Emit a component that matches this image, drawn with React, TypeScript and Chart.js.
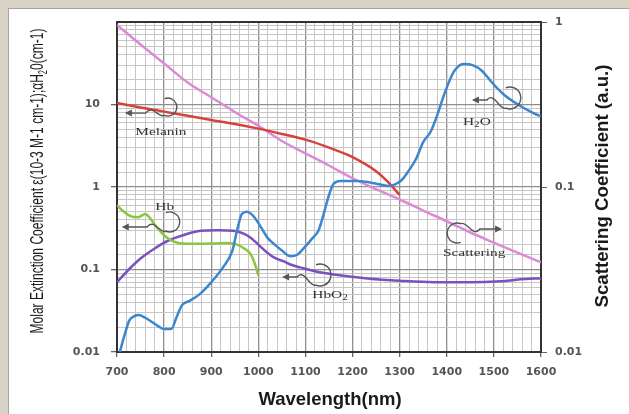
import React, { useEffect, useRef } from 'react';
import { Chart, registerables } from 'chart.js';

Chart.register(...registerables);

// ---- data ----
const scatterNm = [700, 750, 800, 850, 900, 950, 1000, 1050, 1100, 1150, 1200, 1250, 1300, 1350, 1400, 1450, 1500, 1550, 1600];
const scatterVal = [0.96, 0.73, 0.56, 0.43, 0.35, 0.285, 0.235, 0.19, 0.16, 0.135, 0.113, 0.097, 0.084, 0.072, 0.062, 0.053, 0.046, 0.04, 0.035];

const melaninNm = [700, 750, 800, 850, 900, 950, 1000, 1050, 1100, 1150, 1200, 1250, 1275, 1300];
const melaninVal = [10.4, 9.2, 8.2, 7.3, 6.5, 5.8, 5.1, 4.4, 3.75, 3.0, 2.3, 1.55, 1.15, 0.8];

const waterNm = [706, 716, 726, 736, 746, 760, 780, 800, 815, 826, 838, 855, 875, 898, 925, 945, 955, 965, 975, 990, 1005, 1020, 1035, 1050, 1068, 1082, 1096, 1115, 1128, 1140, 1150, 1160, 1175, 1210, 1253, 1275, 1302, 1320, 1335, 1350, 1366, 1380, 1394, 1415, 1436, 1455, 1475, 1494, 1521, 1551, 1585, 1600];
const waterVal = [0.01, 0.016, 0.024, 0.027, 0.028, 0.026, 0.022, 0.019, 0.019, 0.026, 0.037, 0.042, 0.05, 0.068, 0.106, 0.17, 0.3, 0.47, 0.5, 0.44, 0.33, 0.24, 0.2, 0.17, 0.145, 0.15, 0.18, 0.24, 0.3, 0.5, 0.8, 1.1, 1.18, 1.18, 1.09, 1.03, 1.18, 1.6, 2.2, 3.5, 4.7, 7.5, 13, 25, 31, 30, 25.5, 19, 13.2, 10, 7.8, 7.2];

const hbNm = [700, 715, 730, 745, 760, 770, 785, 800, 815, 830, 850, 877, 905, 934, 955, 970, 983, 992, 1000];
const hbVal = [0.6, 0.5, 0.44, 0.43, 0.47, 0.42, 0.32, 0.26, 0.225, 0.21, 0.205, 0.205, 0.207, 0.21, 0.2, 0.18, 0.155, 0.12, 0.085];

const hbo2Nm = [700, 725, 750, 780, 806, 840, 877, 913, 947, 970, 985, 1000, 1019, 1035, 1053, 1068, 1089, 1120, 1160, 1232, 1300, 1372, 1450, 1515, 1585, 1600];
const hbo2Val = [0.07, 0.1, 0.136, 0.18, 0.22, 0.26, 0.295, 0.3, 0.295, 0.27, 0.24, 0.2, 0.16, 0.138, 0.126, 0.115, 0.106, 0.095, 0.087, 0.078, 0.073, 0.07, 0.07, 0.072, 0.078, 0.078];

const xTickLabels = [700, 800, 900, 1000, 1100, 1200, 1300, 1400, 1500, 1600];
const leftTickLabels = [10, 1, 0.1, 0.01];
const rightTickLabels = [1, 0.1, 0.01];

const leftTitleMain = 'Molar Extinction Coefficient \u03b5(10-3 M-1 cm-1);\u03b1H';
const leftTitleSub = '2';
const leftTitleEnd = '0(cm-1)';
const rightTitle = 'Scattering Coefficient (a.u.)';
const xTitle = 'Wavelength(nm)';

// annotation anchors: arc centre in data units (nm, left-axis value)
const annotations = [
  { text: 'Melanin', sub: '', after: '', at: [808, 9.3], r: 9, head: [-43, 6], label: [-7, 25], flip: false },
  { text: 'H', sub: '2', after: 'O', at: [1534, 12], r: 11, head: [-38, 2], label: [-33, 24], flip: false },
  { text: 'Hb', sub: '', after: '', at: [812, 0.377], r: 10, head: [-48, 5], label: [-5, -15], flip: false },
  { text: 'HbO', sub: '2', after: '', at: [1131, 0.0858], r: 11, head: [-38, 2], label: [10, 20], flip: false },
  { text: 'Scattering', sub: '', after: '', at: [1422, 0.277], r: 10, head: [-45, 4], label: [17, 20], flip: true },
];

const pts = (xs: number[], ys: number[]) => xs.map((x, i) => ({ x, y: ys[i] }));
const isPow10 = (v: number) => Math.abs(Math.log10(v) - Math.round(Math.log10(v))) < 1e-6;
const inList = (v: number, list: number[]) => list.some((l) => Math.abs(l - v) / l < 1e-6);
const fmt = (v: number) => (v >= 1 ? String(Math.round(v)) : String(Number(v.toPrecision(1))));

const TICK_FONT = { family: '"DejaVu Sans", Verdana, sans-serif', size: 11, weight: 'bold' as const };
const MAJOR_GRID = '#8e8e8e';
const MINOR_GRID = '#c6c6c6';

const overlayPlugin = {
  id: 'overlay',
  afterDraw(chart: any) {
    const ctx: CanvasRenderingContext2D = chart.ctx;
    const xs = chart.scales.x;
    const ys = chart.scales.y;

    // annotations
    for (const a of annotations) {
      const cx = xs.getPixelForValue(a.at[0]);
      const cy = ys.getPixelForValue(a.at[1]);
      ctx.save();
      ctx.translate(cx, cy);
      if (a.flip) ctx.scale(-1, -1);
      ctx.strokeStyle = '#555';
      ctx.fillStyle = '#555';
      ctx.lineWidth = 1.4;
      const r = a.r;
      const ang = 0.62 * Math.PI;
      const ex = r * Math.cos(ang);
      const ey = r * Math.sin(ang);
      const hx = a.head[0];
      const hy = a.head[1];
      ctx.beginPath();
      ctx.arc(0, 0, r, -ang, ang, false);
      ctx.bezierCurveTo(ex - 6, ey + 3, ex - 12, hy - 9, ex - 19, hy);
      ctx.lineTo(hx + 6, hy);
      ctx.stroke();
      ctx.beginPath();
      ctx.moveTo(hx, hy);
      ctx.lineTo(hx + 7, hy - 3.5);
      ctx.lineTo(hx + 7, hy + 3.5);
      ctx.closePath();
      ctx.fill();
      ctx.restore();

      // label
      ctx.save();
      const lx = cx + a.label[0];
      const ly = cy + a.label[1];
      const mainFont = '11px "Liberation Serif", "Times New Roman", serif';
      const subFont = '8px "Liberation Serif", "Times New Roman", serif';
      ctx.font = mainFont;
      const w1 = ctx.measureText(a.text).width;
      const w3 = ctx.measureText(a.after).width;
      ctx.font = subFont;
      const w2 = ctx.measureText(a.sub).width;
      const stretch = 1.4;
      const total = w1 + w2 + w3;
      ctx.translate(lx, ly);
      ctx.scale(stretch, 1);
      ctx.fillStyle = '#333';
      ctx.textBaseline = 'middle';
      ctx.textAlign = 'left';
      let px = -total / 2;
      ctx.font = mainFont;
      ctx.fillText(a.text, px, 0);
      px += w1;
      if (a.sub) {
        ctx.font = subFont;
        ctx.fillText(a.sub, px, 3);
        px += w2;
      }
      if (a.after) {
        ctx.font = mainFont;
        ctx.fillText(a.after, px, 0);
      }
      ctx.restore();
    }

    // left title (tall, condensed)
    ctx.save();
    const lf = '19px "Liberation Sans", Arial, sans-serif';
    const lfs = '12px "Liberation Sans", Arial, sans-serif';
    ctx.font = lf;
    const a1 = ctx.measureText(leftTitleMain).width;
    const a3 = ctx.measureText(leftTitleEnd).width;
    ctx.font = lfs;
    const a2 = ctx.measureText(leftTitleSub).width;
    const tot = a1 + a2 + a3;
    const k = 305 / tot;
    ctx.translate(43, 181);
    ctx.rotate(-Math.PI / 2);
    ctx.scale(k, 1);
    ctx.fillStyle = '#1a1a1a';
    ctx.textBaseline = 'alphabetic';
    ctx.textAlign = 'left';
    let p = -tot / 2;
    ctx.font = lf;
    ctx.fillText(leftTitleMain, p, 0);
    p += a1;
    ctx.font = lfs;
    ctx.fillText(leftTitleSub, p, 4);
    p += a2;
    ctx.font = lf;
    ctx.fillText(leftTitleEnd, p, 0);
    ctx.restore();

    // right title
    ctx.save();
    ctx.font = 'bold 18.5px "Liberation Sans", Arial, sans-serif';
    const rw = ctx.measureText(rightTitle).width;
    ctx.translate(608, 186);
    ctx.rotate(-Math.PI / 2);
    ctx.scale(243 / rw, 1);
    ctx.fillStyle = '#1a1a1a';
    ctx.textAlign = 'center';
    ctx.textBaseline = 'alphabetic';
    ctx.fillText(rightTitle, 0, 0);
    ctx.restore();

    // x title
    ctx.save();
    ctx.font = 'bold 18.5px "Liberation Sans", Arial, sans-serif';
    ctx.fillStyle = '#1a1a1a';
    ctx.textAlign = 'center';
    ctx.textBaseline = 'alphabetic';
    ctx.fillText(xTitle, 330, 405);
    ctx.restore();
  },
};

export default function App() {
  const ref = useRef<HTMLCanvasElement | null>(null);

  useEffect(() => {
    if (!ref.current) return;
    const common = { pointRadius: 0, borderWidth: 2.5, fill: false, tension: 0.4, cubicInterpolationMode: 'monotone' as const };
    const chart = new Chart(ref.current, {
      type: 'line',
      data: {
        datasets: [
          { label: 'H2O', data: pts(waterNm, waterVal), borderColor: '#3d86cf', yAxisID: 'y', ...common },
          { label: 'Melanin', data: pts(melaninNm, melaninVal), borderColor: '#d8423c', yAxisID: 'y', ...common },
          { label: 'Hb', data: pts(hbNm, hbVal), borderColor: '#8cc63f', yAxisID: 'y', ...common },
          { label: 'HbO2', data: pts(hbo2Nm, hbo2Val), borderColor: '#7b50bf', yAxisID: 'y', ...common },
          { label: 'Scattering', data: pts(scatterNm, scatterVal), borderColor: '#dd8ad6', yAxisID: 'y2', ...common },
        ],
      },
      options: {
        responsive: false,
        animation: false,
        events: [],
        layout: { padding: { top: 22, left: 0, right: 0, bottom: 0 } },
        plugins: { legend: { display: false }, tooltip: { enabled: false } },
        scales: {
          x: {
            type: 'linear',
            min: 700,
            max: 1600,
            afterFit: (s: any) => { s.height = 62; },
            border: { display: true, color: '#333', width: 2 },
            grid: {
              color: (c: any) => (c.tick && c.tick.value % 100 === 0 ? MAJOR_GRID : MINOR_GRID),
              lineWidth: (c: any) => (c.tick && c.tick.value % 100 === 0 ? 1.3 : 1),
              tickColor: (c: any) => (c.tick && c.tick.value % 100 === 0 ? '#666' : 'rgba(0,0,0,0)'),
              tickLength: 5,
            },
            ticks: {
              stepSize: 20,
              autoSkip: false,
              maxRotation: 0,
              padding: 9,
              color: '#555',
              font: TICK_FONT,
              callback: (v: any) => (inList(Number(v), xTickLabels) ? String(v) : ''),
            },
          },
          y: {
            type: 'logarithmic',
            position: 'left',
            min: 0.01,
            max: 100,
            afterFit: (s: any) => { s.width = 117; },
            border: { display: true, color: '#333', width: 2 },
            grid: {
              color: (c: any) => {
                const v = c.tick ? c.tick.value : 0;
                if (Math.abs(v - 100) < 1e-6) return '#333';
                return isPow10(v) ? MAJOR_GRID : MINOR_GRID;
              },
              lineWidth: (c: any) => {
                const v = c.tick ? c.tick.value : 0;
                if (Math.abs(v - 100) < 1e-6) return 2;
                return isPow10(v) ? 1.3 : 1;
              },
              tickColor: (c: any) => (c.tick && inList(c.tick.value, leftTickLabels) ? '#666' : 'rgba(0,0,0,0)'),
              tickLength: 6,
            },
            ticks: {
              autoSkip: false,
              padding: 11,
              color: '#555',
              font: TICK_FONT,
              callback: (v: any) => (inList(Number(v), leftTickLabels) ? fmt(Number(v)) : ''),
            },
          },
          y2: {
            type: 'logarithmic',
            position: 'right',
            min: 0.01,
            max: 1,
            afterFit: (s: any) => { s.width = 88; },
            border: { display: true, color: '#333', width: 2 },
            grid: {
              drawOnChartArea: false,
              tickColor: (c: any) => (c.tick && inList(c.tick.value, rightTickLabels) ? '#666' : 'rgba(0,0,0,0)'),
              tickLength: 6,
            },
            ticks: {
              autoSkip: false,
              padding: 8,
              color: '#555',
              font: TICK_FONT,
              callback: (v: any) => (inList(Number(v), rightTickLabels) ? fmt(Number(v)) : ''),
            },
          },
        },
      },
      plugins: [overlayPlugin],
    } as any);
    return () => chart.destroy();
  }, []);

  return (
    <div style={{ position: 'fixed', left: 0, top: 0, width: 629, height: 414, background: '#d9d3c7', overflow: 'hidden' }}>
      <div style={{ position: 'absolute', left: 8, top: 8, width: 640, height: 420, background: '#fff', borderLeft: '1px solid #aaa59c', borderTop: '1px solid #aaa59c' }} />
      <canvas ref={ref} width={629} height={414} style={{ position: 'absolute', left: 0, top: 0 }} />
    </div>
  );
}
